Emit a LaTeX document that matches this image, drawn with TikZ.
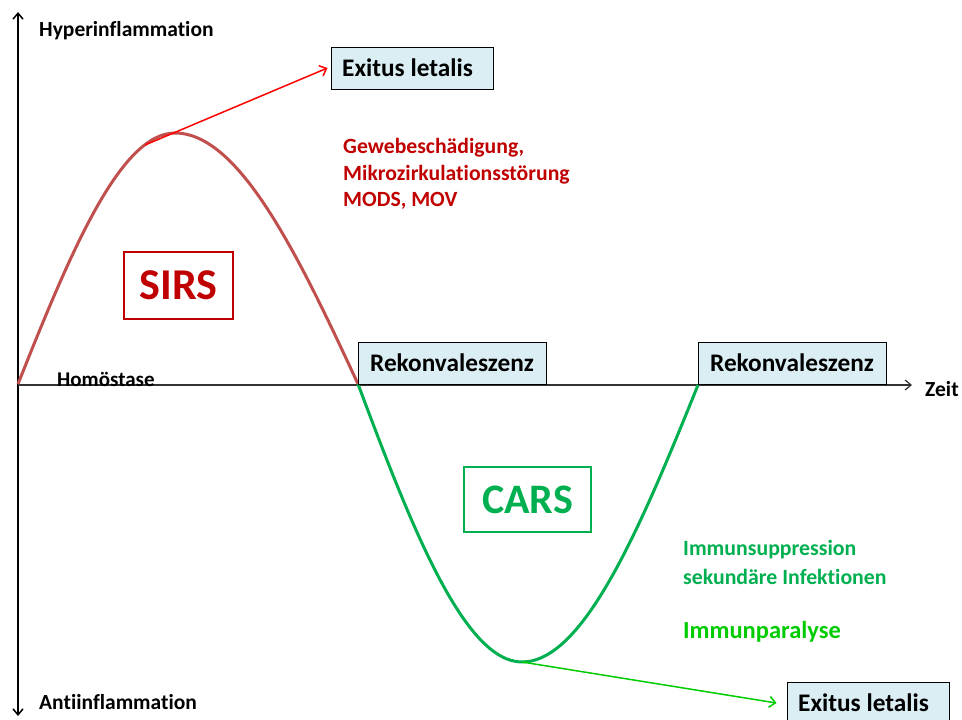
\documentclass[tikz,border=0pt]{standalone}
\usepackage{fontspec}
\setmainfont{Carlito}[Ligatures=NoCommon]
\usetikzlibrary{arrows.meta}
\definecolor{boxfill}{HTML}{DAEEF3}
\definecolor{sirsred}{HTML}{C00000}
\definecolor{curvered}{HTML}{C0504D}
\definecolor{carsgreen}{HTML}{00B050}
\definecolor{brightgreen}{HTML}{00CC00}
\definecolor{arrowred}{HTML}{FF0000}
\tikzset{
  fs/.style={font=\bfseries\fontsize{#1}{#1}\selectfont},
  infobox/.style={draw=black, line width=1pt, fill=boxfill, minimum height=42pt, inner sep=0pt, fs=25.3},
  labelbox/.style={draw, line width=1.3pt, fill=white, inner sep=0pt, fs=43},
  axis/.style={line width=1.5pt, -{Straight Barb[length=6pt,width=10pt]}},
  side/.style={anchor=west, inner sep=0pt, fs=#1},
}
\begin{document}
\begin{tikzpicture}[x=1pt,y=-1pt]
\useasboundingbox (0,0) rectangle (962,720);
\clip (0,0) rectangle (962,720);
% axes
\coordinate (o) at (18,385);
\coordinate (ytop) at (18,12);
\coordinate (ybot) at (18,716);
\coordinate (xend) at (912,385);
\draw[axis] (o) -- (ytop);
\draw[axis] (o) -- (ybot);
\draw[axis, line width=1.2pt, draw=black!80] (o) -- (xend);
\node[side=21.5] (hyper) at (39,31) {Hyperinflammation};
\node[side=21.5] (anti) at (39,702) {Antiinflammation};
\node[side=21.5] (zeit) at (925,389) {Zeit};
\node[side=21, anchor=base west] (homo) at (57,386) {Homöstase};
% curves
\coordinate (r0) at (18,384);
\coordinate (rtop) at (175,133);
\coordinate (r1) at (358,384);
\coordinate (gbot) at (522,662);
\coordinate (g1end) at (698,385);
\draw[curvered, line width=3pt]
  (r0) .. controls (69.2,255.5) and (119.7,133) .. (rtop)
       .. controls (239.5,133) and (298.4,255.5) .. (r1);
\draw[carsgreen, line width=3pt]
  (r1) .. controls (411.4,526.8) and (464.2,662) .. (gbot)
       .. controls (584.0,662) and (640.7,526.8) .. (g1end);
\coordinate (rs) at (145,145);
% boxes
\node[infobox, minimum width=162pt] (ex1) at (412,68) {\hspace*{-9pt}Exitus letalis};
\node[infobox, minimum width=188pt] (rek1) at (452,363) {Rekonvaleszenz};
\node[infobox, minimum width=188pt] (rek2) at (792,363) {Rekonvaleszenz};
\node[infobox, minimum width=162pt] (ex2) at (868,703) {\hspace*{-9pt}Exitus letalis};
\node[labelbox, draw=sirsred, text=sirsred, minimum width=109pt, minimum height=67pt, fs=44] (sirs) at (178.5,285.5) {SIRS};
\node[labelbox, draw=carsgreen, text=carsgreen, minimum width=127pt, minimum height=65pt, fs=42] (cars) at (527.5,499.5) {CARS};
% arrows
\draw[arrowred, line width=1.5pt, -{Straight Barb[length=6pt,width=11pt]}] (rs) -- ([xshift=-3pt]ex1.west);
\draw[brightgreen, line width=1.5pt, -{Straight Barb[length=6pt,width=11pt]}] (gbot) -- ([xshift=-10pt]ex2.west);
% texts
\node[side=21.7, text=sirsred] (red1) at (343,148) {Gewebeschädigung,};
\node[side=21.7, text=sirsred] (red2) at (343,175) {Mikrozirkulationsstörung};
\node[side=21.7, text=sirsred] (red3) at (343,201) {MODS, MOV};
\node[side=21.8, text=carsgreen] (g1) at (683,550) {Immunsuppression};
\node[side=21.8, text=carsgreen] (g2) at (683,577) {sekundäre Infektionen};
\node[side=24.5, text=brightgreen] (g3) at (683,632) {Immunparalyse};
\end{tikzpicture}
\end{document}
